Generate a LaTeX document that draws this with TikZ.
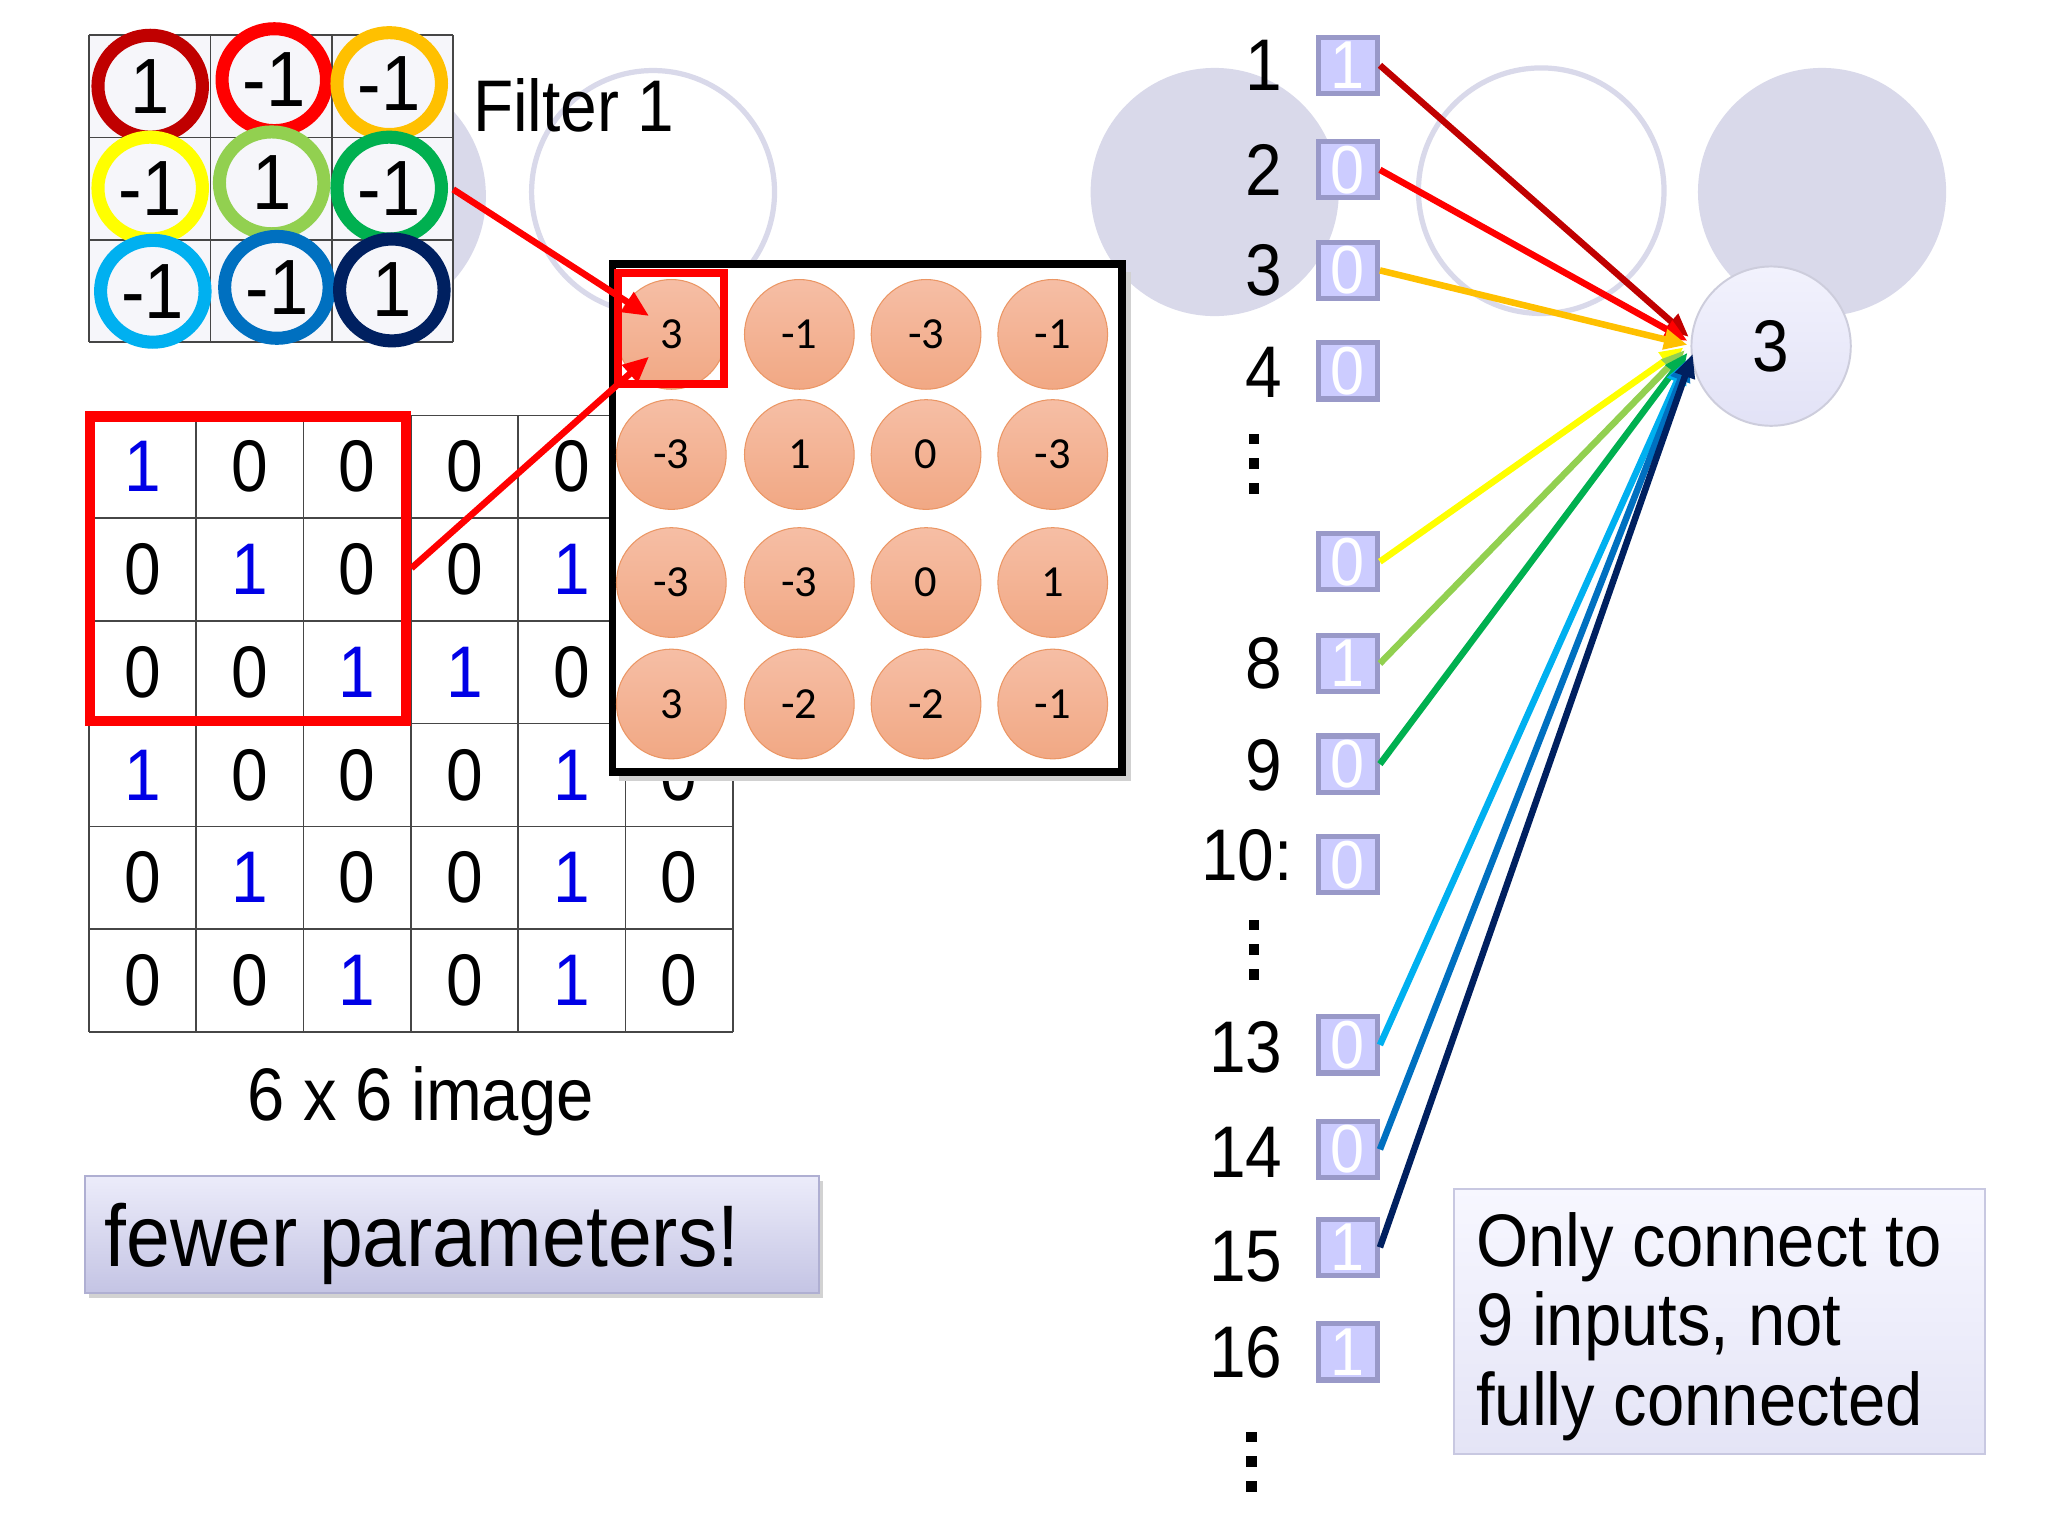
\documentclass[tikz,border=0pt]{standalone}
\usepackage{fontspec}
\setmainfont{Liberation Sans}[FakeStretch=0.9]
\newfontfamily\calfont{Carlito}
\usetikzlibrary{arrows.meta,shadows}
\definecolor{bgc}{RGB}{217,217,234}
\definecolor{cellc}{RGB}{246,246,250}
\definecolor{cdred}{RGB}{192,0,0}
\definecolor{cred}{RGB}{255,0,0}
\definecolor{corange}{RGB}{255,192,0}
\definecolor{cyellow}{RGB}{255,255,0}
\definecolor{clgreen}{RGB}{146,208,80}
\definecolor{cgreen}{RGB}{0,176,80}
\definecolor{clblue}{RGB}{0,176,240}
\definecolor{cblue}{RGB}{0,112,192}
\definecolor{cnavy}{RGB}{0,32,96}
\definecolor{digblue}{RGB}{0,0,230}
\definecolor{boxfill}{RGB}{204,204,255}
\definecolor{boxline}{RGB}{153,153,200}
\definecolor{salmontop}{RGB}{246,190,165}
\definecolor{salmonbot}{RGB}{241,168,132}
\definecolor{salmonline}{RGB}{235,150,100}
\definecolor{gridc}{RGB}{70,70,70}
\tikzset{
  gridline/.style={draw=gridc, line width=1.2pt},
  fdig/.style={font=\fontsize{60}{60}\selectfont, inner sep=0pt},
  gdig/.style={font=\fontsize{56}{56}\selectfont, inner sep=0pt},
  lab/.style={font=\fontsize{56}{56}\selectfont, inner sep=0pt, anchor=east},
  inbox/.style={draw=boxline, fill=boxfill, line width=4pt, minimum width=45pt,
    minimum height=43pt, inner sep=0pt, text=white, font=\fontsize{52}{52}\selectfont},
  fm/.style={circle, minimum size=84pt, inner sep=0pt, draw=salmonline, line width=0.8pt,
    top color=salmontop, bottom color=salmonbot, font=\calfont\fontsize{34}{34}\selectfont},
  conn/.style={line width=5pt, -{Triangle[length=18pt,width=15pt]}},
  redarrow/.style={draw=cred, line width=5pt, -{Triangle[length=20pt,width=17pt]}},
  vdot/.style={fill=black, minimum size=8pt, inner sep=0pt},
}
\begin{document}
\begin{tikzpicture}[x=1pt,y=-1pt]
\useasboundingbox (0,0) rectangle (1568,1176);
\fill[white] (0,0) rectangle (1568,1176);

% decorative background circles
\fill[bgc] (275,150) circle [radius=97];
\draw[bgc, line width=4pt] (500,147) circle [radius=93];
\fill[bgc] (930,147) circle [radius=95];
\draw[bgc, line width=4pt] (1180,146) circle [radius=94];
\fill[bgc] (1395,147) circle [radius=95];

% filter grid
\fill[cellc] (68,27) rectangle (347,262);
\foreach \gx in {68,161,254,347} \draw[gridline] (\gx,27) -- (\gx,262);
\foreach \gy in {27,105.3,183.7,262} \draw[gridline] (68,\gy) -- (347,\gy);
\foreach \px/\py/\col/\v [count=\i] in {115/66/cdred/1, 210/61/cred/-1, 298/64/corange/-1,
   115/144/cyellow/-1, 208/140/clgreen/1, 298/144/cgreen/-1,
   117/223/clblue/-1, 212/220/cblue/-1, 300/222/cnavy/1} {
  \draw[line width=10pt, draw=\col, fill=cellc] (\px,\py) ellipse [x radius=40, y radius=39];
  \node[fdig] (f\i) at (\px,\py) {\v};
}
\node[anchor=base west, font=\fontsize{56}{56}\selectfont, inner sep=0pt] (ftitle) at (362,101) {Filter 1};

% 6x6 image
\foreach \gx in {0,...,6} \draw[gridline] ({68+82.17*\gx},318) -- ({68+82.17*\gx},790);
\foreach \gy in {0,...,6} \draw[gridline] (68,{318+78.67*\gy}) -- (561,{318+78.67*\gy});
\foreach \vals [count=\r] in {{1,0,0,0,0},{0,1,0,0,1},{0,0,1,1,0},{1,0,0,0,1,0},{0,1,0,0,1,0},{0,0,1,0,1,0}} {
  \foreach \v [count=\c] in \vals {
    \node[gdig] (g\r\c) at ({68+82.17*(\c-0.5)},{318+78.67*(\r-0.5)}) {\ifnum\v=1 \color{digblue}\fi\v};
  }
}
\draw[cred, line width=8pt] (69,319) rectangle (311,552);
\node[anchor=base, font=\fontsize{57}{57}\selectfont, inner sep=0pt] (imgcap) at (322,858) {6 x 6 image};

% feature map
\fill[black!18] (474,208) rectangle (866,598);
\draw[line width=6pt, fill=white] (469,202) rectangle (859,591);
\foreach \vals [count=\r] in {{3,-1,-3,-1},{-3,1,0,-3},{-3,-3,0,1},{3,-2,-2,-1}} {
  \foreach \v [count=\c] in \vals {
    \pgfmathsetmacro{\ox}{{514,612,709,806}[\c-1]}
    \pgfmathsetmacro{\oy}{{256,348,446,539}[\r-1]}
    \node[fm] (o\r\c) at (\ox,\oy) {\v};
  }
}
\draw[cred, line width=6pt] (473,209) rectangle (554,294);

% red arrows
\coordinate (fgr) at (347,145);
\coordinate (a1end) at (497,242);
\coordinate (rbx) at (315,435);
\coordinate (a2end) at (497,273);
\draw[redarrow] (fgr) -- (a1end);
\draw[redarrow] (rbx) -- (a2end);

% fewer parameters box
\node[minimum width=562pt, minimum height=90pt, inner sep=0pt,
  top color={rgb,255:red,236;green,236;blue,250}, bottom color={rgb,255:red,196;green,196;blue,228},
  draw={rgb,255:red,175;green,175;blue,210}, line width=1.5pt,
  drop shadow={opacity=0.35, shadow xshift=3pt, shadow yshift=-4pt}] (fewbox) at (346,945) {};
\node[anchor=base west, font=\fontsize{67}{67}\selectfont, inner sep=0pt] (fewtxt) at (80,970) {fewer parameters!};

% neuron
\node[circle, minimum size=122pt, inner sep=0pt,
  top color={rgb,255:red,242;green,242;blue,253}, bottom color={rgb,255:red,226;green,226;blue,246},
  draw={rgb,255:red,205;green,205;blue,220}, line width=1.5pt,
  font=\fontsize{56}{56}\selectfont] (neuron) at (1356,265) {3};

% input column
\foreach \nm/\py/\val in {1/50/1, 2/130/0, 3/207/0, 4/284/0, 7/430/0, 8/508/1, 9/585/0,
   10/662/0, 13/800/0, 14/880/0, 15/955/1, 16/1035/1}
  \node[inbox] (b\nm) at (1032,\py) {\val};
\foreach \nm/\py in {1/50, 2/130, 3/207, 4/285, 8/508, 9/586, 13/802, 14/882, 15/962, 16/1035}
  \node[lab] (l\nm) at (982,\py) {\nm};
\node[lab] (l10) at (990,655) {10:};
% vertical ellipses
\foreach \dx/\dy [count=\k] in {960/336, 960/355, 960/374, 960/708, 960/727, 960/746, 958/1100, 958/1119, 958/1138}
  \node[vdot] (dot\k) at (\dx,\dy) {};

% connections
\foreach \nm/\col/\ex/\ey in {1/cdred/1293/258, 2/cred/1292/261, 3/corange/1292/264,
   7/cyellow/1289/266, 8/clgreen/1290/268, 9/cgreen/1292/270,
   13/clblue/1291/276, 14/cblue/1293/274, 15/cnavy/1296/271} {
  \coordinate (e\nm) at (\ex,\ey);
  \draw[conn, color=\col] (b\nm.east) -- (e\nm);
}

% note box
\node[minimum width=407pt, minimum height=203pt, inner sep=0pt,
  top color={rgb,255:red,247;green,247;blue,255}, bottom color={rgb,255:red,228;green,228;blue,246},
  draw={rgb,255:red,200;green,200;blue,225}, line width=1.5pt] (note) at (1316.5,1011.5) {};
\node[anchor=north west, align=left, inner sep=0pt, font=\fontsize{57}{61}\selectfont] (notetxt)
  at (1130,928) {Only connect to\\9 inputs, not\\fully connected};
\end{tikzpicture}
\end{document}
